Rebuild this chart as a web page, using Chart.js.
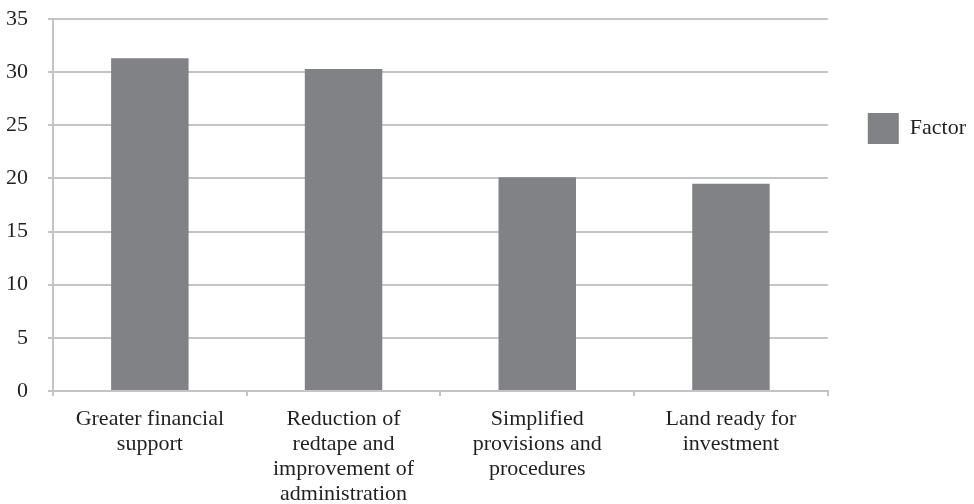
<!DOCTYPE html>
<html lang="en">
<head>
    <meta charset="UTF-8" />
    <title>Factor chart</title>
    <script src="https://cdn.jsdelivr.net/npm/chart.js"></script>
    <style>
        html, body { margin: 0; padding: 0; background: #ffffff; }
        #wrap { position: relative; width: 974px; height: 504px; }
    </style>
</head>
<body>
    <div id="wrap">
        <canvas id="factorChart" width="974" height="504"></canvas>
    </div>

    <script>
        // categories (multi-line labels as in the picture)
        const categorias = [
            ['Greater financial', 'support'],
            ['Reduction of', 'redtape and', 'improvement of', 'administration'],
            ['Simplified', 'provisions and', 'procedures'],
            ['Land ready for', 'investment']
        ];
        // series values
        const valoresFactor = [31.3, 30.3, 20.1, 19.5];
        const nomeSerie = 'Factor';
        // y axis ticks
        const yMin = 0;
        const yMax = 35;
        const yPasso = 5;

        const corBarra = '#818285';
        const corGrade = '#c4c4c7';
        const corTexto = '#231f20';
        const fonte = { family: "'Liberation Serif', 'DejaVu Serif', serif", size: 22, lineHeight: 25 / 22 };

        const dados = {
            labels: categorias,
            datasets: [{
                label: nomeSerie,
                data: valoresFactor,
                backgroundColor: corBarra,
                borderWidth: 0,
                categoryPercentage: 1,
                barPercentage: 0.4
            }]
        };

        const config = {
            type: 'bar',
            data: dados,
            options: {
                responsive: false,
                animation: false,
                layout: {
                    padding: { left: -14, top: 19, right: -2, bottom: -14 }
                },
                plugins: {
                    tooltip: { enabled: false },
                    legend: {
                        position: 'right',
                        align: 'start',
                        title: {
                            display: true,
                            text: '',
                            font: { size: 10 },
                            padding: { top: 42, bottom: 0 }
                        },
                        labels: {
                            boxWidth: 31,
                            boxHeight: 31,
                            padding: 40,
                            color: corTexto,
                            font: fonte
                        }
                    }
                },
                scales: {
                    x: {
                        grid: {
                            drawOnChartArea: false,
                            drawTicks: true,
                            tickLength: 5,
                            color: corGrade,
                            lineWidth: 2
                        },
                        border: { display: true, color: corGrade, width: 2 },
                        ticks: {
                            color: corTexto,
                            font: fonte,
                            padding: 11,
                            autoSkip: false,
                            maxRotation: 0,
                            minRotation: 0
                        }
                    },
                    y: {
                        min: yMin,
                        max: yMax,
                        grid: {
                            color: corGrade,
                            lineWidth: 2,
                            drawTicks: true,
                            tickLength: 5
                        },
                        border: { display: true, color: corGrade, width: 2 },
                        ticks: {
                            stepSize: yPasso,
                            color: corTexto,
                            font: fonte,
                            padding: 20
                        },
                        // o padding dos ticks empurrava o topo do gráfico para baixo
                        afterFit: function (escala) {
                            escala.paddingTop = 0;
                        }
                    }
                }
            }
        };

        const grafico = new Chart(document.getElementById('factorChart'), config);
    </script>
</body>
</html>
